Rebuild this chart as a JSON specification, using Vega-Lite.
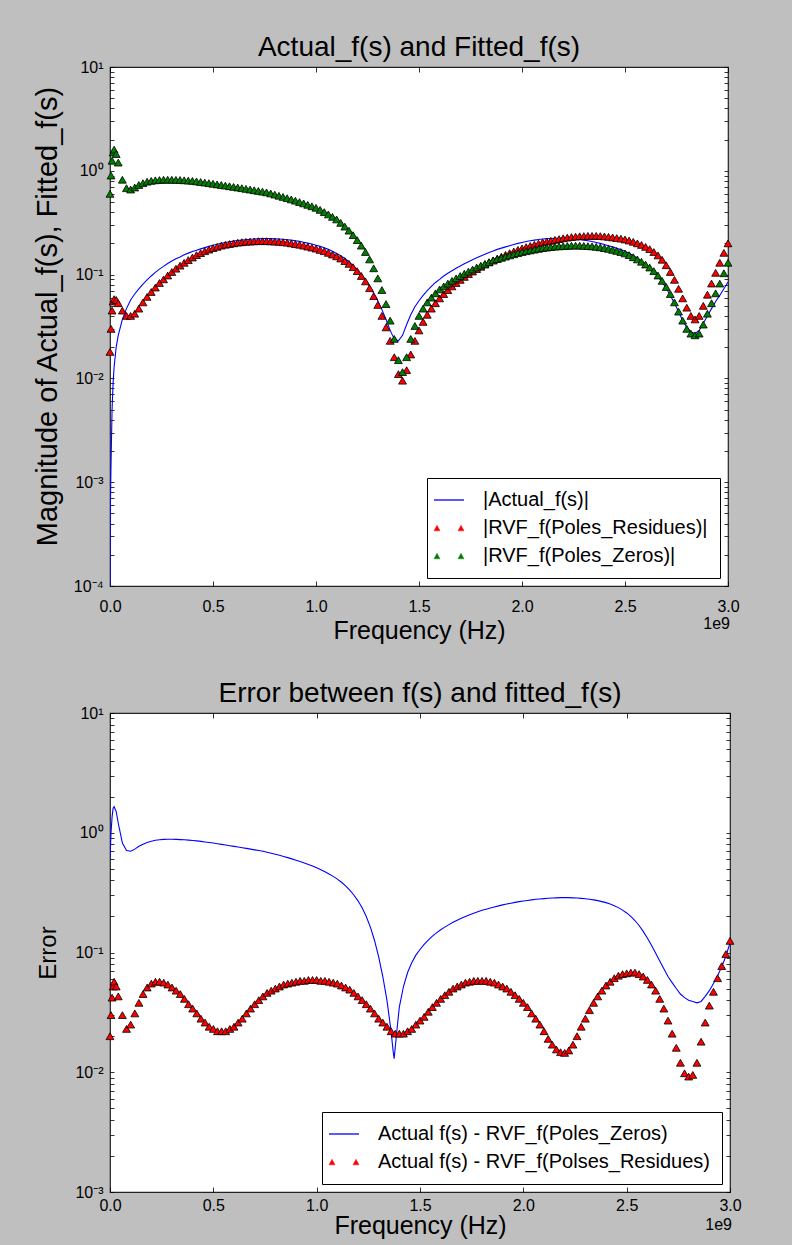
{
  "$schema": "https://vega.github.io/schema/vega-lite/v6.json",
  "background": "#bfbfbf",
  "padding": {"left": 32, "top": 32, "right": 55, "bottom": 6},
  "spacing": 34,
  "config": {
    "font": "Liberation Sans",
    "view": {"fill": "white", "stroke": "#222222", "strokeWidth": 1.2},
    "title": {"font": "Liberation Sans", "fontSize": 28, "fontWeight": "normal", "color": "#000000", "offset": 0, "anchor": "middle"},
    "axis": {"labelFont": "Liberation Sans", "labelFontSize": 16, "labelColor": "#000000", "titleFont": "Liberation Sans", "titleFontSize": 24, "titleFontWeight": "normal", "titleColor": "#000000", "grid": false, "domain": false, "tickColor": "#000000", "tickWidth": 0.8, "labelOverlap": false, "labelFlush": false},
    "legend": {"labelFont": "Liberation Sans", "labelFontSize": 20, "labelColor": "#000000", "labelLimit": 600, "fillColor": "#ffffff", "strokeColor": "#000000", "padding": 12, "rowPadding": 8, "labelOffset": 24, "symbolSize": 900, "offset": 8, "orient": "bottom-right", "title": null, "cornerRadius": 0}
  },
  "datasets": {
    "top": [
      {"f":0,"a":0.0001,"r":0.018,"g":0.6},
      {"f":0.002,"a":0.0006},
      {"f":0.005,"a":0.0015,"r":0.03,"g":0.9},
      {"f":0.01,"a":0.005,"r":0.045,"g":1.25},
      {"f":0.015,"a":0.009,"r":0.055,"g":1.5},
      {"f":0.02,"a":0.013,"r":0.058,"g":1.6},
      {"f":0.03,"a":0.02,"r":0.057,"g":1.45},
      {"f":0.04,"a":0.026,"r":0.053,"g":1.2},
      {"f":0.06,"a":0.037,"r":0.045,"g":0.82},
      {"f":0.08,"a":0.047,"r":0.04,"g":0.68},
      {"f":0.1,"a":0.057,"r":0.04,"g":0.66},
      {"f":0.12,"a":0.065,"r":0.042,"g":0.69},
      {"f":0.14,"a":0.073,"r":0.047,"g":0.73},
      {"f":0.16,"a":0.081,"r":0.054,"g":0.76},
      {"f":0.18,"a":0.089,"r":0.061,"g":0.785},
      {"f":0.2,"a":0.097,"r":0.068,"g":0.8},
      {"f":0.22,"a":0.105,"r":0.075,"g":0.81},
      {"f":0.24,"a":0.113,"r":0.083,"g":0.815},
      {"f":0.26,"a":0.12,"r":0.09,"g":0.82},
      {"f":0.28,"a":0.128,"r":0.098,"g":0.82},
      {"f":0.3,"a":0.135,"r":0.106,"g":0.82},
      {"f":0.32,"a":0.142,"r":0.114,"g":0.818},
      {"f":0.34,"a":0.148,"r":0.122,"g":0.815},
      {"f":0.36,"a":0.155,"r":0.13,"g":0.81},
      {"f":0.38,"a":0.161,"r":0.138,"g":0.805},
      {"f":0.4,"a":0.167,"r":0.146,"g":0.8},
      {"f":0.42,"a":0.172,"r":0.154,"g":0.79},
      {"f":0.44,"a":0.177,"r":0.161,"g":0.78},
      {"f":0.46,"a":0.182,"r":0.168,"g":0.77},
      {"f":0.48,"a":0.187,"r":0.174,"g":0.76},
      {"f":0.5,"a":0.192,"r":0.18,"g":0.75},
      {"f":0.52,"a":0.196,"r":0.185,"g":0.74},
      {"f":0.54,"a":0.2,"r":0.19,"g":0.73},
      {"f":0.56,"a":0.204,"r":0.194,"g":0.72},
      {"f":0.58,"a":0.207,"r":0.197,"g":0.71},
      {"f":0.6,"a":0.21,"r":0.2,"g":0.7},
      {"f":0.62,"a":0.213,"r":0.203,"g":0.69},
      {"f":0.64,"a":0.215,"r":0.205,"g":0.68},
      {"f":0.66,"a":0.217,"r":0.207,"g":0.67},
      {"f":0.68,"a":0.219,"r":0.208,"g":0.66},
      {"f":0.7,"a":0.22,"r":0.209,"g":0.65},
      {"f":0.72,"a":0.221,"r":0.21,"g":0.64},
      {"f":0.74,"a":0.222,"r":0.21,"g":0.63},
      {"f":0.76,"a":0.222,"r":0.21,"g":0.62},
      {"f":0.78,"a":0.222,"r":0.209,"g":0.605},
      {"f":0.8,"a":0.221,"r":0.208,"g":0.59},
      {"f":0.82,"a":0.22,"r":0.207,"g":0.575},
      {"f":0.84,"a":0.219,"r":0.205,"g":0.56},
      {"f":0.86,"a":0.217,"r":0.203,"g":0.545},
      {"f":0.88,"a":0.215,"r":0.2,"g":0.53},
      {"f":0.9,"a":0.212,"r":0.197,"g":0.515},
      {"f":0.92,"a":0.209,"r":0.194,"g":0.5},
      {"f":0.94,"a":0.205,"r":0.19,"g":0.485},
      {"f":0.96,"a":0.201,"r":0.186,"g":0.47},
      {"f":0.98,"a":0.197,"r":0.182,"g":0.455},
      {"f":1.0,"a":0.192,"r":0.178,"g":0.44},
      {"f":1.02,"a":0.187,"r":0.173,"g":0.42},
      {"f":1.04,"a":0.181,"r":0.168,"g":0.4},
      {"f":1.06,"a":0.175,"r":0.162,"g":0.38},
      {"f":1.08,"a":0.168,"r":0.156,"g":0.36},
      {"f":1.1,"a":0.16,"r":0.15,"g":0.34},
      {"f":1.12,"a":0.152,"r":0.143,"g":0.315},
      {"f":1.14,"a":0.143,"r":0.135,"g":0.29},
      {"f":1.16,"a":0.133,"r":0.127,"g":0.265},
      {"f":1.18,"a":0.122,"r":0.118,"g":0.24},
      {"f":1.2,"a":0.111,"r":0.108,"g":0.215},
      {"f":1.22,"a":0.1,"r":0.097,"g":0.19},
      {"f":1.24,"a":0.089,"r":0.086,"g":0.165},
      {"f":1.26,"a":0.077,"r":0.074,"g":0.14},
      {"f":1.28,"a":0.066,"r":0.062,"g":0.115},
      {"f":1.3,"a":0.056,"r":0.051,"g":0.092},
      {"f":1.32,"a":0.046,"r":0.04,"g":0.071},
      {"f":1.34,"a":0.037,"r":0.031,"g":0.052},
      {"f":1.36,"a":0.029,"r":0.023,"g":0.036},
      {"f":1.38,"a":0.024,"r":0.016,"g":0.024},
      {"f":1.4,"a":0.023,"r":0.011,"g":0.015},
      {"f":1.42,"a":0.026,"r":0.0095,"g":0.0115},
      {"f":1.44,"a":0.033,"r":0.012,"g":0.016},
      {"f":1.46,"a":0.041,"r":0.017,"g":0.024},
      {"f":1.48,"a":0.049,"r":0.023,"g":0.032},
      {"f":1.5,"a":0.056,"r":0.029,"g":0.04},
      {"f":1.52,"a":0.063,"r":0.035,"g":0.047},
      {"f":1.54,"a":0.07,"r":0.041,"g":0.054},
      {"f":1.56,"a":0.077,"r":0.047,"g":0.06},
      {"f":1.58,"a":0.084,"r":0.053,"g":0.066},
      {"f":1.6,"a":0.09,"r":0.059,"g":0.072},
      {"f":1.62,"a":0.097,"r":0.065,"g":0.077},
      {"f":1.64,"a":0.103,"r":0.071,"g":0.082},
      {"f":1.66,"a":0.109,"r":0.077,"g":0.087},
      {"f":1.68,"a":0.115,"r":0.083,"g":0.092},
      {"f":1.7,"a":0.121,"r":0.089,"g":0.097},
      {"f":1.72,"a":0.127,"r":0.095,"g":0.102},
      {"f":1.74,"a":0.133,"r":0.101,"g":0.107},
      {"f":1.76,"a":0.139,"r":0.107,"g":0.112},
      {"f":1.78,"a":0.145,"r":0.113,"g":0.117},
      {"f":1.8,"a":0.151,"r":0.119,"g":0.122},
      {"f":1.82,"a":0.157,"r":0.125,"g":0.127},
      {"f":1.84,"a":0.163,"r":0.131,"g":0.132},
      {"f":1.86,"a":0.169,"r":0.137,"g":0.137},
      {"f":1.88,"a":0.175,"r":0.143,"g":0.141},
      {"f":1.9,"a":0.18,"r":0.149,"g":0.145},
      {"f":1.92,"a":0.185,"r":0.155,"g":0.149},
      {"f":1.94,"a":0.19,"r":0.161,"g":0.153},
      {"f":1.96,"a":0.195,"r":0.167,"g":0.157},
      {"f":1.98,"a":0.2,"r":0.173,"g":0.161},
      {"f":2.0,"a":0.204,"r":0.179,"g":0.165},
      {"f":2.02,"a":0.208,"r":0.184,"g":0.168},
      {"f":2.04,"a":0.212,"r":0.189,"g":0.171},
      {"f":2.06,"a":0.215,"r":0.194,"g":0.174},
      {"f":2.08,"a":0.218,"r":0.199,"g":0.177},
      {"f":2.1,"a":0.22,"r":0.204,"g":0.18},
      {"f":2.12,"a":0.222,"r":0.208,"g":0.182},
      {"f":2.14,"a":0.223,"r":0.212,"g":0.184},
      {"f":2.16,"a":0.224,"r":0.216,"g":0.186},
      {"f":2.18,"a":0.224,"r":0.22,"g":0.187},
      {"f":2.2,"a":0.224,"r":0.224,"g":0.188},
      {"f":2.22,"a":0.223,"r":0.227,"g":0.189},
      {"f":2.24,"a":0.222,"r":0.23,"g":0.19},
      {"f":2.26,"a":0.22,"r":0.232,"g":0.19},
      {"f":2.28,"a":0.218,"r":0.234,"g":0.19},
      {"f":2.3,"a":0.215,"r":0.235,"g":0.189},
      {"f":2.32,"a":0.212,"r":0.236,"g":0.188},
      {"f":2.34,"a":0.208,"r":0.236,"g":0.187},
      {"f":2.36,"a":0.204,"r":0.236,"g":0.185},
      {"f":2.38,"a":0.2,"r":0.235,"g":0.183},
      {"f":2.4,"a":0.195,"r":0.233,"g":0.18},
      {"f":2.42,"a":0.19,"r":0.231,"g":0.177},
      {"f":2.44,"a":0.185,"r":0.228,"g":0.173},
      {"f":2.46,"a":0.179,"r":0.225,"g":0.169},
      {"f":2.48,"a":0.174,"r":0.222,"g":0.165},
      {"f":2.5,"a":0.168,"r":0.218,"g":0.16},
      {"f":2.52,"a":0.161,"r":0.213,"g":0.154},
      {"f":2.54,"a":0.153,"r":0.207,"g":0.147},
      {"f":2.56,"a":0.144,"r":0.2,"g":0.14},
      {"f":2.58,"a":0.135,"r":0.193,"g":0.133},
      {"f":2.6,"a":0.125,"r":0.185,"g":0.125},
      {"f":2.62,"a":0.116,"r":0.176,"g":0.117},
      {"f":2.64,"a":0.106,"r":0.165,"g":0.108},
      {"f":2.66,"a":0.096,"r":0.153,"g":0.098},
      {"f":2.68,"a":0.085,"r":0.139,"g":0.087},
      {"f":2.7,"a":0.074,"r":0.123,"g":0.076},
      {"f":2.72,"a":0.063,"r":0.106,"g":0.065},
      {"f":2.74,"a":0.053,"r":0.089,"g":0.054},
      {"f":2.76,"a":0.044,"r":0.073,"g":0.044},
      {"f":2.78,"a":0.036,"r":0.059,"g":0.036},
      {"f":2.8,"a":0.031,"r":0.048,"g":0.03},
      {"f":2.82,"a":0.028,"r":0.04,"g":0.027},
      {"f":2.84,"a":0.027,"r":0.037,"g":0.026},
      {"f":2.86,"a":0.029,"r":0.04,"g":0.027},
      {"f":2.88,"a":0.034,"r":0.05,"g":0.033},
      {"f":2.9,"a":0.04,"r":0.064,"g":0.042},
      {"f":2.92,"a":0.047,"r":0.082,"g":0.053},
      {"f":2.94,"a":0.055,"r":0.104,"g":0.066},
      {"f":2.96,"a":0.063,"r":0.13,"g":0.082},
      {"f":2.98,"a":0.073,"r":0.162,"g":0.103},
      {"f":3.0,"a":0.085,"r":0.2,"g":0.13}
    ],
    "bot": [
      {"f":0,"e1":0.6,"e2":0.02},
      {"f":0.005,"e1":1.0,"e2":0.03},
      {"f":0.01,"e1":1.35,"e2":0.042},
      {"f":0.015,"e1":1.6,"e2":0.052},
      {"f":0.02,"e1":1.65,"e2":0.057},
      {"f":0.03,"e1":1.5,"e2":0.052},
      {"f":0.04,"e1":1.2,"e2":0.043},
      {"f":0.06,"e1":0.82,"e2":0.03},
      {"f":0.08,"e1":0.71,"e2":0.023},
      {"f":0.1,"e1":0.7,"e2":0.025},
      {"f":0.12,"e1":0.73,"e2":0.031},
      {"f":0.14,"e1":0.77,"e2":0.038},
      {"f":0.16,"e1":0.8,"e2":0.045},
      {"f":0.18,"e1":0.83,"e2":0.051},
      {"f":0.2,"e1":0.85,"e2":0.055},
      {"f":0.22,"e1":0.865,"e2":0.057},
      {"f":0.24,"e1":0.875,"e2":0.057},
      {"f":0.26,"e1":0.88,"e2":0.056},
      {"f":0.28,"e1":0.882,"e2":0.054},
      {"f":0.3,"e1":0.882,"e2":0.051},
      {"f":0.32,"e1":0.88,"e2":0.048},
      {"f":0.34,"e1":0.877,"e2":0.045},
      {"f":0.36,"e1":0.873,"e2":0.041},
      {"f":0.38,"e1":0.868,"e2":0.037},
      {"f":0.4,"e1":0.862,"e2":0.034},
      {"f":0.42,"e1":0.855,"e2":0.031},
      {"f":0.44,"e1":0.847,"e2":0.028},
      {"f":0.46,"e1":0.838,"e2":0.026},
      {"f":0.48,"e1":0.829,"e2":0.024},
      {"f":0.5,"e1":0.82,"e2":0.023},
      {"f":0.52,"e1":0.81,"e2":0.022},
      {"f":0.54,"e1":0.8,"e2":0.022},
      {"f":0.56,"e1":0.79,"e2":0.022},
      {"f":0.58,"e1":0.78,"e2":0.023},
      {"f":0.6,"e1":0.77,"e2":0.024},
      {"f":0.62,"e1":0.76,"e2":0.026},
      {"f":0.64,"e1":0.75,"e2":0.028},
      {"f":0.66,"e1":0.74,"e2":0.031},
      {"f":0.68,"e1":0.73,"e2":0.034},
      {"f":0.7,"e1":0.72,"e2":0.037},
      {"f":0.72,"e1":0.71,"e2":0.04},
      {"f":0.74,"e1":0.7,"e2":0.043},
      {"f":0.76,"e1":0.688,"e2":0.046},
      {"f":0.78,"e1":0.675,"e2":0.048},
      {"f":0.8,"e1":0.662,"e2":0.05},
      {"f":0.82,"e1":0.648,"e2":0.052},
      {"f":0.84,"e1":0.634,"e2":0.054},
      {"f":0.86,"e1":0.62,"e2":0.055},
      {"f":0.88,"e1":0.605,"e2":0.056},
      {"f":0.9,"e1":0.59,"e2":0.057},
      {"f":0.92,"e1":0.575,"e2":0.058},
      {"f":0.94,"e1":0.56,"e2":0.058},
      {"f":0.96,"e1":0.544,"e2":0.059},
      {"f":0.98,"e1":0.528,"e2":0.059},
      {"f":1.0,"e1":0.51,"e2":0.059},
      {"f":1.02,"e1":0.492,"e2":0.058},
      {"f":1.04,"e1":0.473,"e2":0.058},
      {"f":1.06,"e1":0.453,"e2":0.057},
      {"f":1.08,"e1":0.432,"e2":0.056},
      {"f":1.1,"e1":0.41,"e2":0.055},
      {"f":1.12,"e1":0.386,"e2":0.053},
      {"f":1.14,"e1":0.36,"e2":0.051},
      {"f":1.16,"e1":0.332,"e2":0.049},
      {"f":1.18,"e1":0.302,"e2":0.046},
      {"f":1.2,"e1":0.27,"e2":0.043},
      {"f":1.22,"e1":0.236,"e2":0.04},
      {"f":1.24,"e1":0.2,"e2":0.037},
      {"f":1.26,"e1":0.163,"e2":0.034},
      {"f":1.28,"e1":0.126,"e2":0.031},
      {"f":1.3,"e1":0.092,"e2":0.028},
      {"f":1.32,"e1":0.063,"e2":0.026},
      {"f":1.34,"e1":0.04,"e2":0.024},
      {"f":1.36,"e1":0.022,"e2":0.022},
      {"f":1.37,"e1":0.015},
      {"f":1.375,"e1":0.013},
      {"f":1.38,"e1":0.016,"e2":0.021},
      {"f":1.39,"e1":0.024},
      {"f":1.4,"e1":0.035,"e2":0.021},
      {"f":1.42,"e1":0.052,"e2":0.021},
      {"f":1.44,"e1":0.068,"e2":0.022},
      {"f":1.46,"e1":0.082,"e2":0.023},
      {"f":1.48,"e1":0.095,"e2":0.025},
      {"f":1.5,"e1":0.106,"e2":0.027},
      {"f":1.52,"e1":0.117,"e2":0.029},
      {"f":1.54,"e1":0.127,"e2":0.032},
      {"f":1.56,"e1":0.137,"e2":0.035},
      {"f":1.58,"e1":0.146,"e2":0.038},
      {"f":1.6,"e1":0.155,"e2":0.041},
      {"f":1.62,"e1":0.163,"e2":0.044},
      {"f":1.64,"e1":0.171,"e2":0.047},
      {"f":1.66,"e1":0.179,"e2":0.05},
      {"f":1.68,"e1":0.186,"e2":0.052},
      {"f":1.7,"e1":0.193,"e2":0.054},
      {"f":1.72,"e1":0.2,"e2":0.056},
      {"f":1.74,"e1":0.207,"e2":0.057},
      {"f":1.76,"e1":0.213,"e2":0.058},
      {"f":1.78,"e1":0.219,"e2":0.058},
      {"f":1.8,"e1":0.225,"e2":0.058},
      {"f":1.82,"e1":0.23,"e2":0.058},
      {"f":1.84,"e1":0.235,"e2":0.057},
      {"f":1.86,"e1":0.24,"e2":0.056},
      {"f":1.88,"e1":0.245,"e2":0.054},
      {"f":1.9,"e1":0.25,"e2":0.052},
      {"f":1.92,"e1":0.254,"e2":0.05},
      {"f":1.94,"e1":0.258,"e2":0.047},
      {"f":1.96,"e1":0.262,"e2":0.044},
      {"f":1.98,"e1":0.266,"e2":0.041},
      {"f":2.0,"e1":0.269,"e2":0.038},
      {"f":2.02,"e1":0.272,"e2":0.035},
      {"f":2.04,"e1":0.275,"e2":0.031},
      {"f":2.06,"e1":0.278,"e2":0.028},
      {"f":2.08,"e1":0.28,"e2":0.025},
      {"f":2.1,"e1":0.282,"e2":0.022},
      {"f":2.12,"e1":0.284,"e2":0.019},
      {"f":2.14,"e1":0.285,"e2":0.017},
      {"f":2.16,"e1":0.286,"e2":0.0155},
      {"f":2.18,"e1":0.287,"e2":0.0147},
      {"f":2.2,"e1":0.287,"e2":0.0145},
      {"f":2.22,"e1":0.287,"e2":0.0152},
      {"f":2.24,"e1":0.286,"e2":0.017},
      {"f":2.26,"e1":0.285,"e2":0.02},
      {"f":2.28,"e1":0.283,"e2":0.024},
      {"f":2.3,"e1":0.281,"e2":0.028},
      {"f":2.32,"e1":0.278,"e2":0.033},
      {"f":2.34,"e1":0.275,"e2":0.038},
      {"f":2.36,"e1":0.271,"e2":0.043},
      {"f":2.38,"e1":0.266,"e2":0.048},
      {"f":2.4,"e1":0.261,"e2":0.053},
      {"f":2.42,"e1":0.254,"e2":0.057},
      {"f":2.44,"e1":0.246,"e2":0.061},
      {"f":2.46,"e1":0.237,"e2":0.064},
      {"f":2.48,"e1":0.226,"e2":0.066},
      {"f":2.5,"e1":0.214,"e2":0.067},
      {"f":2.52,"e1":0.2,"e2":0.068},
      {"f":2.54,"e1":0.185,"e2":0.068},
      {"f":2.56,"e1":0.168,"e2":0.066},
      {"f":2.58,"e1":0.15,"e2":0.063},
      {"f":2.6,"e1":0.132,"e2":0.059},
      {"f":2.62,"e1":0.115,"e2":0.054},
      {"f":2.64,"e1":0.099,"e2":0.048},
      {"f":2.66,"e1":0.085,"e2":0.041},
      {"f":2.68,"e1":0.073,"e2":0.034},
      {"f":2.7,"e1":0.063,"e2":0.027},
      {"f":2.72,"e1":0.056,"e2":0.021},
      {"f":2.74,"e1":0.05,"e2":0.016},
      {"f":2.76,"e1":0.045,"e2":0.012},
      {"f":2.78,"e1":0.042,"e2":0.0098},
      {"f":2.8,"e1":0.04,"e2":0.0092},
      {"f":2.82,"e1":0.039,"e2":0.0095},
      {"f":2.84,"e1":0.038,"e2":0.012},
      {"f":2.86,"e1":0.039,"e2":0.018},
      {"f":2.88,"e1":0.043,"e2":0.026},
      {"f":2.9,"e1":0.048,"e2":0.036},
      {"f":2.92,"e1":0.055,"e2":0.047},
      {"f":2.94,"e1":0.064,"e2":0.061},
      {"f":2.96,"e1":0.076,"e2":0.077},
      {"f":2.98,"e1":0.093,"e2":0.097},
      {"f":3.0,"e1":0.12,"e2":0.125}
    ],
    "offsetLabel": [{"label": "1e9"}]
  },
  "resolve": {"scale": {"x": "independent", "y": "independent", "color": "independent"}, "legend": {"color": "independent"}},
  "vconcat": [
    {
      "title": {"text": "Actual_f(s) and Fitted_f(s)", "offset": -2.5},
      "width": 618,
      "height": 519,
      "resolve": {"axis": {"x": "independent", "y": "independent"}},
      "layer": [
        {
          "data": {"name": "top"},
          "mark": {"type": "line", "color": "#0000ff", "strokeWidth": 1.1, "clip": true},
          "encoding": {
            "x": {"field": "f", "type": "quantitative", "scale": {"domain": [0, 3], "nice": false, "zero": false},
                  "axis": {"orient": "bottom", "values": [0, 0.5, 1, 1.5, 2, 2.5, 3], "format": ".1f", "tickSize": -5, "labelPadding": 17, "title": "Frequency (Hz)", "titleFontSize": 25, "titlePadding": 4}},
            "y": {"field": "a", "type": "quantitative", "scale": {"type": "log", "domain": [0.0001, 10], "nice": false},
                  "axis": {"orient": "left", "title": "Magnitude of Actual_f(s), Fitted_f(s)", "titleFontSize": 29, "titlePadding": 11, "titleY": 249, "tickSize": -4, "labelPadding": 11,
                           "values": [0.0001,0.0002,0.0003,0.0004,0.0005,0.0006,0.0007,0.0008,0.0009,0.001,0.002,0.003,0.004,0.005,0.006,0.007,0.008,0.009,0.01,0.02,0.03,0.04,0.05,0.06,0.07,0.08,0.09,0.1,0.2,0.3,0.4,0.5,0.6,0.7,0.8,0.9,1,2,3,4,5,6,7,8,9,10],
                           "labelExpr": "abs(log(datum.value)/LN10 - round(log(datum.value)/LN10)) < 0.001 ? '10' + ['⁻⁴','⁻³','⁻²','⁻¹','⁰','¹'][round(log(datum.value)/LN10) + 4] : ''",
                           "encode": {"ticks": {"update": {"x2": {"signal": "abs(log(datum.value)/LN10 - round(log(datum.value)/LN10)) < 0.001 ? 5 : 2.5"}}}}}},
            "color": {"datum": "|Actual_f(s)|", "type": "nominal",
                      "scale": {"domain": ["|Actual_f(s)|", "|RVF_f(Poles_Residues)|", "|RVF_f(Poles_Zeros)|"], "range": ["#0000ff", "#ff0000", "#007f00"]},
                      "legend": {"orient": "bottom-right", "offset": 8,
                                 "encode": {"symbols": {"update": {
                                   "shape": {"signal": "datum.value === '|Actual_f(s)|' ? 'M-1,0H1' : 'M-1,0.19L-0.8,-0.19L-0.6,0.19Z M0.6,0.19L0.8,-0.19L1,0.19Z'"},
                                   "fill": {"signal": "datum.value === '|Actual_f(s)|' ? 'transparent' : (datum.value === '|RVF_f(Poles_Residues)|' ? '#ff0000' : '#007f00')"},
                                   "stroke": {"signal": "datum.value === '|Actual_f(s)|' ? '#0000ff' : '#000000'"},
                                   "strokeWidth": {"signal": "datum.value === '|Actual_f(s)|' ? 1.3 : 0.4"},
                                   "opacity": {"value": 1}, "fillOpacity": {"value": 1}, "strokeOpacity": {"value": 1}}}}}}
          }
        },
        {
          "data": {"name": "top"},
          "mark": {"type": "point", "shape": "triangle-up", "filled": true, "size": 62, "stroke": "#000000", "strokeWidth": 0.8, "opacity": 1},
          "encoding": {
            "x": {"field": "f", "type": "quantitative", "axis": {"orient": "top", "values": [0, 0.5, 1, 1.5, 2, 2.5, 3], "labels": false, "title": null, "tickSize": -5}},
            "y": {"field": "r", "type": "quantitative",
                  "axis": {"orient": "right", "labels": false, "title": null, "tickSize": -4,
                           "values": [0.0001,0.0002,0.0003,0.0004,0.0005,0.0006,0.0007,0.0008,0.0009,0.001,0.002,0.003,0.004,0.005,0.006,0.007,0.008,0.009,0.01,0.02,0.03,0.04,0.05,0.06,0.07,0.08,0.09,0.1,0.2,0.3,0.4,0.5,0.6,0.7,0.8,0.9,1,2,3,4,5,6,7,8,9,10],
                           "encode": {"ticks": {"update": {"x2": {"signal": "abs(log(datum.value)/LN10 - round(log(datum.value)/LN10)) < 0.001 ? -5 : -2.5"}}}}}},
            "color": {"datum": "|RVF_f(Poles_Residues)|", "type": "nominal"}
          }
        },
        {
          "data": {"name": "top"},
          "mark": {"type": "point", "shape": "triangle-up", "filled": true, "size": 62, "stroke": "#000000", "strokeWidth": 0.8, "opacity": 1},
          "encoding": {
            "x": {"field": "f", "type": "quantitative", "axis": null},
            "y": {"field": "g", "type": "quantitative", "axis": null},
            "color": {"datum": "|RVF_f(Poles_Zeros)|", "type": "nominal"}
          }
        },
        {
          "data": {"name": "offsetLabel"},
          "mark": {"type": "text", "align": "right", "baseline": "middle", "dy": 38, "dx": 2, "fontSize": 16, "font": "Liberation Sans", "color": "#000000"},
          "encoding": {
            "x": {"datum": 3, "type": "quantitative", "axis": null},
            "y": {"datum": 0.0001, "type": "quantitative", "axis": null},
            "text": {"field": "label"}
          }
        }
      ]
    },
    {
      "title": {"text": "Error between f(s) and fitted_f(s)", "offset": -2.5},
      "width": 620,
      "height": 479,
      "resolve": {"axis": {"x": "independent", "y": "independent"}},
      "layer": [
        {
          "data": {"name": "bot"},
          "mark": {"type": "line", "color": "#0000ff", "strokeWidth": 1.1, "clip": true},
          "encoding": {
            "x": {"field": "f", "type": "quantitative", "scale": {"domain": [0, 3], "nice": false, "zero": false},
                  "axis": {"orient": "bottom", "values": [0, 0.5, 1, 1.5, 2, 2.5, 3], "format": ".1f", "tickSize": -5, "labelPadding": 10, "title": "Frequency (Hz)", "titleFontSize": 25, "titlePadding": 0}},
            "y": {"field": "e1", "type": "quantitative", "scale": {"type": "log", "domain": [0.001, 10], "nice": false},
                  "axis": {"orient": "left", "title": "Error", "titlePadding": 14, "tickSize": -4, "labelPadding": 11,
                           "values": [0.001,0.002,0.003,0.004,0.005,0.006,0.007,0.008,0.009,0.01,0.02,0.03,0.04,0.05,0.06,0.07,0.08,0.09,0.1,0.2,0.3,0.4,0.5,0.6,0.7,0.8,0.9,1,2,3,4,5,6,7,8,9,10],
                           "labelExpr": "abs(log(datum.value)/LN10 - round(log(datum.value)/LN10)) < 0.001 ? '10' + ['⁻³','⁻²','⁻¹','⁰','¹'][round(log(datum.value)/LN10) + 3] : ''",
                           "encode": {"ticks": {"update": {"x2": {"signal": "abs(log(datum.value)/LN10 - round(log(datum.value)/LN10)) < 0.001 ? 5 : 2.5"}}}}}},
            "color": {"datum": "Actual f(s) - RVF_f(Poles_Zeros)", "type": "nominal",
                      "scale": {"domain": ["Actual f(s) - RVF_f(Poles_Zeros)", "Actual f(s) - RVF_f(Polses_Residues)"], "range": ["#0000ff", "#ff0000"]},
                      "legend": {"orient": "bottom-right", "offset": 8,
                                 "encode": {"symbols": {"update": {
                                   "shape": {"signal": "datum.value === 'Actual f(s) - RVF_f(Poles_Zeros)' ? 'M-1,0H1' : 'M-1,0.19L-0.8,-0.19L-0.6,0.19Z M0.6,0.19L0.8,-0.19L1,0.19Z'"},
                                   "fill": {"signal": "datum.value === 'Actual f(s) - RVF_f(Poles_Zeros)' ? 'transparent' : '#ff0000'"},
                                   "stroke": {"signal": "datum.value === 'Actual f(s) - RVF_f(Poles_Zeros)' ? '#0000ff' : '#000000'"},
                                   "strokeWidth": {"signal": "datum.value === 'Actual f(s) - RVF_f(Poles_Zeros)' ? 1.3 : 0.4"},
                                   "opacity": {"value": 1}, "fillOpacity": {"value": 1}, "strokeOpacity": {"value": 1}}}}}}
          }
        },
        {
          "data": {"name": "bot"},
          "mark": {"type": "point", "shape": "triangle-up", "filled": true, "size": 62, "stroke": "#000000", "strokeWidth": 0.8, "opacity": 1},
          "encoding": {
            "x": {"field": "f", "type": "quantitative", "axis": {"orient": "top", "values": [0, 0.5, 1, 1.5, 2, 2.5, 3], "labels": false, "title": null, "tickSize": -5}},
            "y": {"field": "e2", "type": "quantitative",
                  "axis": {"orient": "right", "labels": false, "title": null, "tickSize": -4,
                           "values": [0.001,0.002,0.003,0.004,0.005,0.006,0.007,0.008,0.009,0.01,0.02,0.03,0.04,0.05,0.06,0.07,0.08,0.09,0.1,0.2,0.3,0.4,0.5,0.6,0.7,0.8,0.9,1,2,3,4,5,6,7,8,9,10],
                           "encode": {"ticks": {"update": {"x2": {"signal": "abs(log(datum.value)/LN10 - round(log(datum.value)/LN10)) < 0.001 ? -5 : -2.5"}}}}}},
            "color": {"datum": "Actual f(s) - RVF_f(Polses_Residues)", "type": "nominal"}
          }
        },
        {
          "data": {"name": "offsetLabel"},
          "mark": {"type": "text", "align": "right", "baseline": "middle", "dy": 33, "dx": 2, "fontSize": 16, "font": "Liberation Sans", "color": "#000000"},
          "encoding": {
            "x": {"datum": 3, "type": "quantitative", "axis": null},
            "y": {"datum": 0.001, "type": "quantitative", "axis": null},
            "text": {"field": "label"}
          }
        }
      ]
    }
  ]
}
